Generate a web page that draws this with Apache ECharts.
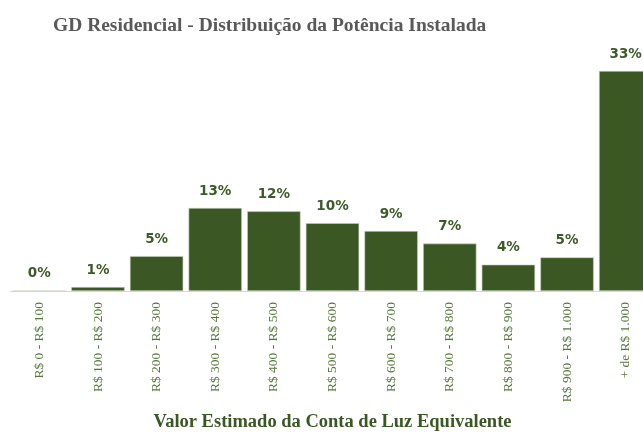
<!DOCTYPE html>
<html style="height: 100%">
<head>
<meta charset="utf-8">
<script src="https://cdn.jsdelivr.net/npm/echarts@6/dist/echarts.min.js"></script>
</head>
<body style="height: 100%; margin: 0; background: #fff">
<div id="container" style="width: 643px; height: 432px"></div>
<script>
// faixas de valor da conta de luz
var categories = ['R$ 0 - R$ 100', 'R$ 100 - R$ 200', 'R$ 200 - R$ 300', 'R$ 300 - R$ 400',
    'R$ 400 - R$ 500', 'R$ 500 - R$ 600', 'R$ 600 - R$ 700', 'R$ 700 - R$ 800',
    'R$ 800 - R$ 900', 'R$ 900 - R$ 1.000', '+ de R$ 1.000'];
// participação na potência instalada (%)
var shares = [0, 0.6, 5.3, 12.6, 12.1, 10.3, 9.1, 7.2, 4.0, 5.1, 33.4];

var green = '#3b5724';
var chart = echarts.init(document.getElementById('container'));

var option = {
    animation: false,
    title: {
        text: 'GD Residencial - Distribuição da Potência Instalada',
        left: 48,
        top: 11,
        textStyle: {
            fontFamily: 'Liberation Serif',
            fontWeight: 'bold',
            fontSize: 19.5,
            color: '#595959'
        }
    },
    grid: {
        left: 10,
        right: -12,
        top: 71,
        bottom: 141,
        containLabel: false,
        outerBoundsMode: 'none'
    },
    xAxis: {
        type: 'category',
        data: categories,
        axisLine: {lineStyle: {color: '#d9d9d9', width: 1}},
        axisTick: {show: false},
        axisLabel: {
            rotate: 90,
            margin: 11,
            interval: 0,
            fontFamily: 'Liberation Serif',
            fontSize: 13.5,
            color: '#55793a'
        },
        name: 'Valor Estimado da Conta de Luz Equivalente',
        nameLocation: 'middle',
        nameGap: 122,
        nameTextStyle: {
            fontFamily: 'Liberation Serif',
            fontWeight: 'bold',
            fontSize: 18.5,
            color: '#3b5724'
        }
    },
    yAxis: {
        type: 'value',
        min: 0,
        max: 'dataMax',
        show: false,
        splitLine: {show: false}
    },
    series: [{
        type: 'bar',
        data: shares,
        barCategoryGap: '9%',
        itemStyle: {
            color: green,
            borderColor: '#c9d3c0',
            borderWidth: 0.6
        },
        label: {
            show: true,
            position: 'top',
            distance: 10,
            formatter: function (p) {
                return Math.round(p.value) + '%';
            },
            fontFamily: 'DejaVu Sans',
            fontWeight: 'bold',
            fontSize: 13.5,
            color: '#3d5a27'
        }
    }]
};

chart.setOption(option);
</script>
</body>
</html>
